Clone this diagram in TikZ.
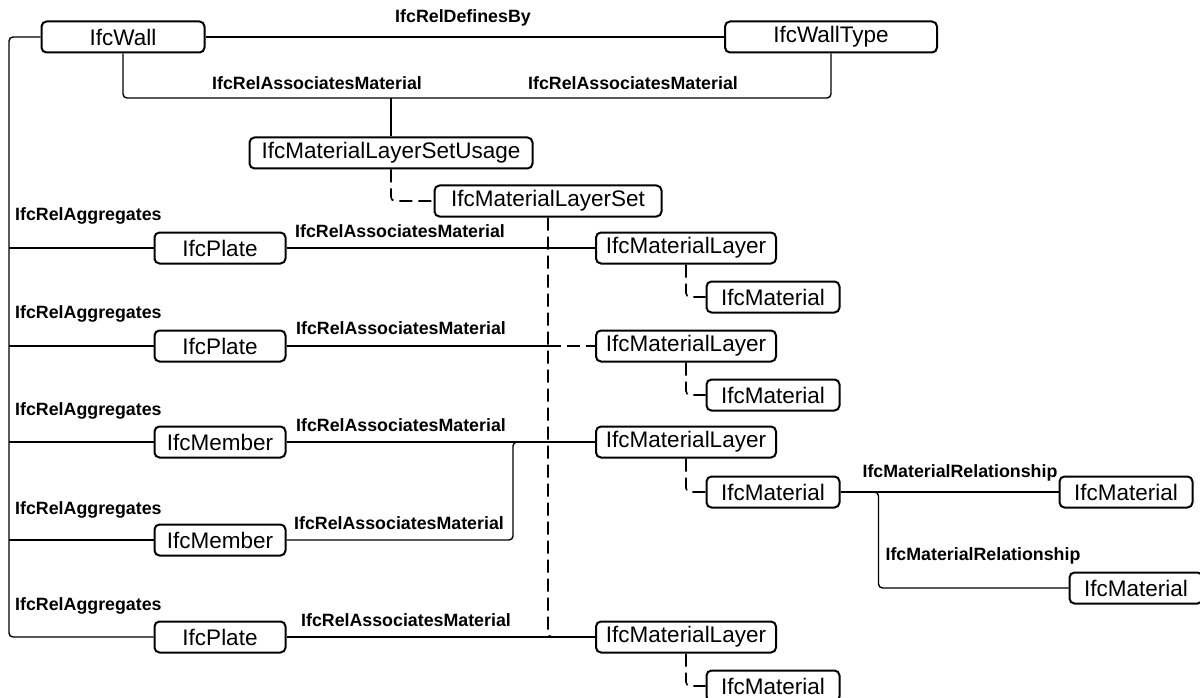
\documentclass[tikz,border=0pt]{standalone}
\usepackage{fontspec}
\setmainfont{Liberation Sans}
\usetikzlibrary{positioning}

\begin{document}
\begin{tikzpicture}[x=1pt, y=-1pt,
    box/.style={draw, line width=2pt, rounded corners=5pt, fill=white,
      minimum height=31pt, inner sep=2pt, font=\fontsize{22.5}{24}\selectfont},
    rel/.style={font=\bfseries\fontsize{17.8}{19}\selectfont, inner sep=0pt},
    conn/.style={line width=1.4pt, rounded corners=4pt},
    dconn/.style={conn, line width=1.6pt, dash pattern=on 13pt off 6pt}
  ]
  \useasboundingbox (0,0) rectangle (1200,698);

  \node[box, minimum width=163pt] (wall)     at (123,37)  {IfcWall};
  \node[box, minimum width=212pt] (walltype) at (831,37)  {IfcWallType};
  \node[box, minimum width=283pt] (usage)    at (391,153) {IfcMaterialLayerSetUsage};
  \node[box, minimum width=227pt] (layerset) at (548,201) {IfcMaterialLayerSet};

  \node[box, minimum width=131pt] (plateA)  at (220,248) {IfcPlate};
  \node[box, minimum width=131pt] (plateB)  at (220,346) {IfcPlate};
  \node[box, minimum width=131pt] (memberA) at (220,442) {IfcMember};
  \node[box, minimum width=131pt] (memberB) at (220,540) {IfcMember};
  \node[box, minimum width=131pt] (plateC)  at (220,637) {IfcPlate};

  \node[box, minimum width=180pt] (layerA) at (686,248) {IfcMaterialLayer};
  \node[box, minimum width=180pt] (layerB) at (686,346) {IfcMaterialLayer};
  \node[box, minimum width=180pt] (layerC) at (686,442) {IfcMaterialLayer};
  \node[box, minimum width=180pt] (layerD) at (686,637) {IfcMaterialLayer};

  \node[box, minimum width=133pt] (matA) at (773,297) {IfcMaterial};
  \node[box, minimum width=133pt] (matB) at (773,395) {IfcMaterial};
  \node[box, minimum width=133pt] (matC) at (773,492) {IfcMaterial};
  \node[box, minimum width=133pt] (matD) at (773,686) {IfcMaterial};
  \node[box, minimum width=133pt] (relmatA) at (1126,492) {IfcMaterial};
  \node[box, minimum width=133pt] (relmatB) at (1136,588) {IfcMaterial};

  % relationship labels
  \node[rel] (defby)  at (463,18) {IfcRelDefinesBy};
  \node[rel] (assocW) at (317,83) {IfcRelAssociatesMaterial};
  \node[rel] (assocT) at (633,83) {IfcRelAssociatesMaterial};
  \node[rel, anchor=west] (aggA) at (15,216) {IfcRelAggregates};
  \node[rel, anchor=west] (aggB) at (15,314) {IfcRelAggregates};
  \node[rel, anchor=west] (aggC) at (15,411) {IfcRelAggregates};
  \node[rel, anchor=west] (aggD) at (15,510) {IfcRelAggregates};
  \node[rel, anchor=west] (aggE) at (15,606) {IfcRelAggregates};
  \node[rel] (assocA) at (400,231) {IfcRelAssociatesMaterial};
  \node[rel] (assocB) at (401,328) {IfcRelAssociatesMaterial};
  \node[rel] (assocC) at (401,425) {IfcRelAssociatesMaterial};
  \node[rel] (assocD) at (399,523) {IfcRelAssociatesMaterial};
  \node[rel] (assocE) at (406,620) {IfcRelAssociatesMaterial};
  \node[rel] (mrelA) at (960,473) {IfcMaterialRelationship};
  \node[rel] (mrelB) at (983,556) {IfcMaterialRelationship};

  \coordinate (agg) at (9,0);
  \coordinate (bus) at (391,98);
  \coordinate (join) at (513,0);

  \draw[conn] (wall.east) -- (walltype.west);
  \draw[conn] (wall.south) |- (bus) -| (walltype.south);
  \draw[conn] (bus) -- (usage.north);
  \draw[dconn] (usage.south) |- (layerset.west);

  \draw[conn] (wall.west) -| (agg |- plateC.west) -- (plateC.west);
  \draw[conn] (agg |- plateA.west) -- (plateA.west);
  \draw[conn] (agg |- plateB.west) -- (plateB.west);
  \draw[conn] (agg |- memberA.west) -- (memberA.west);
  \draw[conn] (agg |- memberB.west) -- (memberB.west);

  \draw[conn] (plateA.east) -- (layerA.west);
  \draw[conn] (plateB.east) -- (layerset.south |- plateB.east);
  \draw[conn] (memberA.east) -- (layerC.west);
  \draw[conn] (memberB.east) -| (join |- memberA.east) -- (layerC.west);
  \draw[conn] (plateC.east) -- (layerD.west);

  \draw[dconn] (layerset.south) |- (layerD.west);
  \draw[dconn] (layerset.south |- layerA.west) -- (layerA.west);
  \draw[dconn] (layerset.south |- layerB.west) -- (layerB.west);
  \draw[dconn] (layerset.south |- layerC.west) -- (layerC.west);

  \draw[dconn] (layerA.south) |- (matA.west);
  \draw[dconn] (layerB.south) |- (matB.west);
  \draw[dconn] (layerC.south) |- (matC.west);
  \draw[dconn] (layerD.south) |- (matD.west);

  \draw[conn] (matC.east) -- (relmatA.west);
  \draw[conn] (matC.east) -| ([xshift=38pt]matC.east |- relmatB.west) -- (relmatB.west);
\end{tikzpicture}
\end{document}
